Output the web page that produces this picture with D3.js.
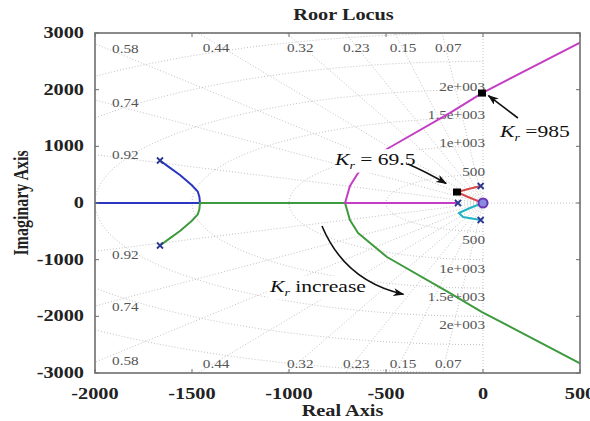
<!DOCTYPE html>
<html>
<head>
<meta charset="utf-8">
<script src="https://cdn.jsdelivr.net/npm/d3@7"></script>
<style>
	body{margin:0;background:#fff;}
	svg{display:block;font-family:"Liberation Serif","Times New Roman",serif;}
</style>
</head>
<body>
<div id="canvas"></div>
<script>
// axis ticks
var xTicks = [-2000, -1500, -1000, -500, 0, 500];
var yTicks = [-3000, -2000, -1000, 0, 1000, 2000, 3000];

// sgrid: damping ratios and natural frequencies
var zetas = [0.07, 0.15, 0.23, 0.32, 0.44, 0.58, 0.74, 0.92];
var wns = [500, 1000, 1500, 2000, 2500, 3000];
var wnLabels = ["500", "1e+003", "1.5e+003", "2e+003"];

// root locus branches, [real, imag]
var blueLocus = [[-2000,0],[-1459,0],[-1462,110],[-1470,200],[-1502,318],[-1562,494],[-1622,641],[-1665,750]];
var greenLocus = [[-1665,-750],[-1622,-641],[-1562,-494],[-1502,-318],[-1470,-200],[-1462,-110],[-1459,0],
	[-711,0],[-686,-300],[-644,-529],[-495,-953],[-170,-1590],[-5,-1925],[500,-2830]];
var magentaLocus = [[-129,0],[-711,0],[-686,300],[-644,529],[-495,953],[-170,1590],[-5,1940],[500,2830]];
var redLocus = [[-12,300],[-70,250],[-134,194],[-80,110],[-12,15]];
var cyanLocus = [[-12,-300],[-103,-247],[-124,-176],[-67,-88],[-20,-25]];

var poles = [[-1665,750],[-1665,-750],[-129,0],[-12,300],[-12,-300]];
var zeros = [[0,0]];
var gainPoints = [[-134,194],[-5,1940]];

var W = 590, H = 421;
var SX = 1.27; // text is horizontally stretched in the reference

var x = d3.scaleLinear().domain([-2000, 500]).range([95, 580]);
var y = d3.scaleLinear().domain([-3000, 3000]).range([373, 33]);

var svg = d3.select("#canvas").append("svg")
	.attr("width", W)
	.attr("height", H);

var defs = svg.append("defs");
defs.append("clipPath").attr("id", "plotClip")
	.append("rect")
	.attr("x", 95).attr("y", 33)
	.attr("width", 485).attr("height", 340);

defs.append("marker")
	.attr("id", "arrow")
	.attr("markerUnits", "userSpaceOnUse")
	.attr("markerWidth", 11).attr("markerHeight", 8)
	.attr("refX", 10).attr("refY", 4)
	.attr("orient", "auto")
	.append("path")
	.attr("d", "M0,0 L11,4 L0,8 L3,4 z")
	.attr("fill", "#111");

function sText(parent, px, py, str, anchor){
	var g = parent.append("g")
		.attr("transform", "translate(" + px + "," + py + ") scale(" + SX + ",1)");
	var t = g.append("text")
		.attr("x", 0).attr("y", 0)
		.attr("text-anchor", anchor || "start")
		.text(str);
	return t;
}

var line = d3.line()
	.x(function(d){ return x(d[0]); })
	.y(function(d){ return y(d[1]); });

// ---- grid ----
var grid = svg.append("g").attr("clip-path", "url(#plotClip)")
	.attr("fill", "none")
	.attr("stroke", "#c2c2c2")
	.attr("stroke-width", 1)
	.attr("stroke-dasharray", "1,2");

// axes of the s-plane
grid.append("path").attr("d", line([[-2000,0],[500,0]]));
grid.append("path").attr("d", line([[0,-3000],[0,3000]]));

zetas.forEach(function(z){
	var s = Math.sqrt(1 - z*z);
	var r = 6000;
	grid.append("path").attr("d", line([[0,0],[-z*r, s*r]]));
	grid.append("path").attr("d", line([[0,0],[-z*r, -s*r]]));
});

wns.forEach(function(wn){
	var pts = d3.range(-90, 90.5, 2).map(function(a){
		var t = a * Math.PI / 180;
		return [-wn * Math.cos(t), wn * Math.sin(t)];
	});
	grid.append("path").attr("d", line.curve(d3.curveLinear)(pts));
});

// grid labels
var gl = svg.append("g")
	.attr("fill", "#555")
	.attr("font-size", 12);

zetas.forEach(function(z){
	var slope = Math.sqrt(1 - z*z) / z;
	var label = String(z);
	if(slope * 2000 < 3000){
		var yy = slope * 1912;
		sText(gl, x(-1912), y(yy) + 2, label, "start");
		sText(gl, x(-1912), y(-yy) + 10, label, "start");
	}else{
		var xx = -2850 / slope;
		sText(gl, x(xx) + 4, y(2850) + 10, label, "middle");
		sText(gl, x(xx) + 4, y(-2850) + 3, label, "middle");
	}
});

wnLabels.forEach(function(lbl, i){
	sText(gl, x(0) + 2, y(wns[i]) + 1, lbl, "end");
	sText(gl, x(0) + 2, y(-wns[i]) + 13, lbl, "end");
});

// ---- loci ----
var loci = svg.append("g").attr("clip-path", "url(#plotClip)")
	.attr("fill", "none")
	.attr("stroke-width", 2)
	.attr("stroke-linejoin", "round");

var branches = [
	{data: blueLocus, color: "#2a35c0"},
	{data: greenLocus, color: "#3d9a3d"},
	{data: magentaLocus, color: "#c43ec4"},
	{data: redLocus, color: "#d84848"},
	{data: cyanLocus, color: "#1fb3c6"}
];
branches.forEach(function(b){
	loci.append("path")
		.attr("d", line.curve(d3.curveLinear)(b.data))
		.attr("stroke", b.color);
});

// pole markers
poles.forEach(function(p){
	var cx = x(p[0]), cy = y(p[1]), s = 3;
	loci.append("path")
		.attr("d", "M" + (cx-s) + "," + (cy-s) + "L" + (cx+s) + "," + (cy+s) +
			"M" + (cx-s) + "," + (cy+s) + "L" + (cx+s) + "," + (cy-s))
		.attr("stroke", "#2a3890")
		.attr("stroke-width", 1.8);
});

zeros.forEach(function(p){
	loci.append("circle")
		.attr("cx", x(p[0])).attr("cy", y(p[1]))
		.attr("r", 4.5)
		.attr("stroke", "#6a35b5")
		.attr("stroke-width", 2)
		.attr("fill", "#8a8ae0");
});

// ---- annotations ----
var ann = svg.append("g").attr("fill", "#111").attr("font-size", 17);

function gainLabel(px, py, value, bg){
	var g = ann.append("g")
		.attr("transform", "translate(" + px + "," + py + ") scale(" + SX + ",1)");
	var t = g.append("text").attr("x", 0).attr("y", 0);
	t.append("tspan").attr("font-style", "italic").text("K");
	t.append("tspan").attr("font-style", "italic").attr("font-size", 11).attr("dy", 4).text("r");
	t.append("tspan").attr("dy", -4).text(value);
	if(bg){
		var bb = t.node().getBBox();
		g.insert("rect", "text")
			.attr("x", bb.x - 1).attr("y", bb.y - 1)
			.attr("width", bb.width + 2).attr("height", bb.height + 2)
			.attr("fill", "#fff");
	}
	return g;
}

gainLabel(x(-763), y(670), " = 69.5", true);
gainLabel(x(88), y(1165), " =985", true);
gainLabel(x(-1098), y(-1570), " increase", true);

gainPoints.forEach(function(p){
	ann.append("rect")
		.attr("x", x(p[0]) - 4).attr("y", y(p[1]) - 3.5)
		.attr("width", 8).attr("height", 7)
		.attr("fill", "#000");
});

var arrows = ann.append("g")
	.attr("fill", "none")
	.attr("stroke", "#111")
	.attr("stroke-width", 1.6)
	.attr("marker-end", "url(#arrow)");

arrows.append("path")
	.attr("d", "M" + x(-387) + "," + y(688) + " Q" + x(-300) + "," + y(560) + " " + x(-190) + "," + y(345));
arrows.append("path")
	.attr("d", "M" + x(180) + "," + y(1500) + " L" + x(28) + "," + y(1895));
arrows.append("path")
	.attr("d", "M" + x(-830) + "," + y(-406) + " Q" + x(-711) + "," + y(-1380) + " " + x(-410) + "," + y(-1610));

// ---- axes box and ticks ----
var axis = svg.append("g")
	.attr("stroke", "#6e6e6e")
	.attr("fill", "none");

axis.append("rect")
	.attr("x", 95).attr("y", 33)
	.attr("width", 485).attr("height", 340)
	.attr("stroke-width", 1.6);

xTicks.forEach(function(t){
	axis.append("line").attr("x1", x(t)).attr("x2", x(t)).attr("y1", y(-3000)).attr("y2", y(-3000) - 4);
	axis.append("line").attr("x1", x(t)).attr("x2", x(t)).attr("y1", y(3000)).attr("y2", y(3000) + 4);
});
yTicks.forEach(function(t){
	axis.append("line").attr("x1", x(-2000)).attr("x2", x(-2000) + 4).attr("y1", y(t)).attr("y2", y(t));
	axis.append("line").attr("x1", x(500)).attr("x2", x(500) - 4).attr("y1", y(t)).attr("y2", y(t));
});

var labels = svg.append("g")
	.attr("fill", "#222")
	.attr("font-size", 16)
	.attr("font-weight", "bold");

xTicks.forEach(function(t){
	sText(labels, x(t), 399, String(t), "middle");
});
yTicks.forEach(function(t){
	sText(labels, 84, y(t) + 5, String(t), "end");
});

sText(labels, (95 + 580) / 2 + 6, 20, "Roor Locus", "middle");
sText(labels, (95 + 580) / 2 + 5, 416, "Real Axis", "middle");

labels.append("g")
	.attr("transform", "translate(28," + y(0) + ") scale(" + SX + ",1) rotate(-90)")
	.append("text")
	.attr("text-anchor", "middle")
	.text("Imaginary Axis");
</script>
</body>
</html>
